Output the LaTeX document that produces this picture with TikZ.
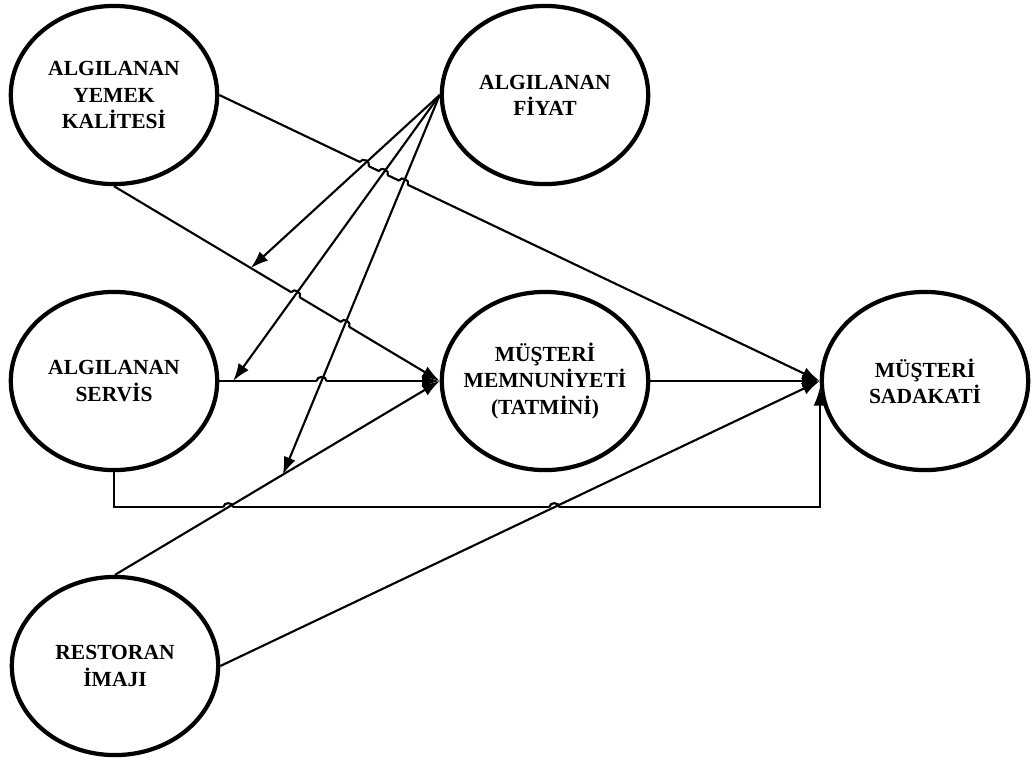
\documentclass[tikz,border=0pt]{standalone}
\usepackage{fontspec}
\setmainfont{Liberation Serif}
\usepackage{tikz}
\usetikzlibrary{shapes,arrows.meta,positioning,calc,intersections}

\tikzset{
  factor/.style={ellipse, draw, line width=2.4pt, minimum width=117pt, minimum height=101pt,
    inner xsep=-5pt, inner ysep=0pt, align=center, font=\fontsize{12.2}{14.8}\selectfont\bfseries},
  link/.style={line width=1.2pt},
  >={Latex[length=10pt,width=7pt]}
}

% small bridge where one link jumps over another
\newcommand{\linkhop}[4]{%
  \path[name intersections={of=#1 and #2, by=hx}];
  \fill[white] (hx) circle (2.8pt);
  \draw[link] ($(hx)!2.8pt!(#3)$) to[bend left=90, looseness=1.4] ($(hx)!2.8pt!(#4)$);
}

\begin{document}
\begin{tikzpicture}[x=0.5669pt, y=-0.5669pt]
            \useasboundingbox (0,0) rectangle (1032,761);

            \node[factor] (yemek) at (114,95) {ALGILANAN\\YEMEK\\KALİTESİ};
            \node[factor] (fiyat) at (545,95) {ALGILANAN\\FİYAT};
            \node[factor] (servis) at (114,381) {ALGILANAN\\SERVİS};
            \node[factor] (tatmin) at (545,381) {MÜŞTERİ\\MEMNUNİYETİ\\(TATMİNİ)};
            \node[factor] (sadakat) at (925,381) {MÜŞTERİ\\SADAKATİ};
            \node[factor] (imaj) at (115,666) {RESTORAN\\İMAJI};

            % corners of the lower link from servis to sadakat
            \coordinate (lowL) at ($(servis.south)+(0,35)$);
            \coordinate (lowR) at (sadakat.west |- lowL);
            \coordinate (upR) at ($(sadakat.west)+(0,7)$);

            % where the price arrows land on the other links
            \coordinate (modA) at ($(yemek.south)!0.42!(tatmin.west)$);
            \coordinate (modB) at ($(servis.east)!0.063!(tatmin.west)$);
            \coordinate (modC) at ($(imaj.north)!0.517!(tatmin.west)$);

            % links that get jumped over
            \path[name path=f1] (fiyat.west) -- (modA);
            \path[name path=f2] (fiyat.west) -- (modB);
            \path[name path=f3] (fiyat.west) -- (modC);
            \path[name path=r1] (imaj.north) -- (tatmin.west);
            \path[name path=r2] (imaj.east) -- (sadakat.west);

            % links with bridges
            \draw[link, ->, name path=y1] (yemek.east) -- (sadakat.west);
            \draw[link, ->, name path=y2] (yemek.south) -- (tatmin.west);
            \draw[link, ->, name path=s1] (servis.east) -- (tatmin.west);
            \draw[link, ->, name path=s2] (servis.south) -- (lowL) -- (lowR) -- (upR);

            \linkhop{y1}{f1}{yemek.east}{sadakat.west}
            \linkhop{y1}{f2}{yemek.east}{sadakat.west}
            \linkhop{y1}{f3}{yemek.east}{sadakat.west}
            \linkhop{y2}{f2}{yemek.south}{tatmin.west}
            \linkhop{y2}{f3}{yemek.south}{tatmin.west}
            \linkhop{s1}{f3}{servis.east}{tatmin.west}
            \linkhop{s2}{r1}{lowL}{lowR}
            \linkhop{s2}{r2}{lowL}{lowR}

            % the rest
            \draw[link, ->] (fiyat.west) -- (modA);
            \draw[link, ->] (fiyat.west) -- (modB);
            \draw[link, ->] (fiyat.west) -- (modC);
            \draw[link, ->] (imaj.north) -- (tatmin.west);
            \draw[link, ->] (imaj.east) -- (sadakat.west);
            \draw[link, ->] (tatmin.east) -- (sadakat.west);
        \end{tikzpicture}
\end{document}
